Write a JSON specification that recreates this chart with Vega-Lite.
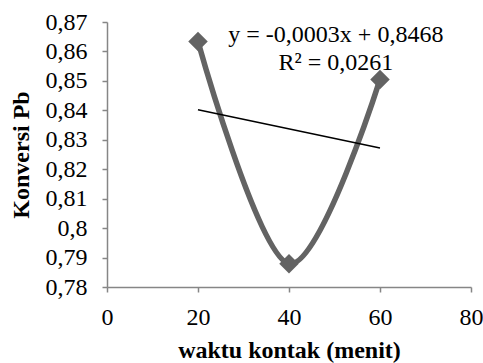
{
  "$schema": "https://vega.github.io/schema/vega-lite/v6.json",
  "width": 364,
  "height": 265,
  "autosize": {"type": "none"},
  "padding": {"left": 107, "top": 22, "right": 12, "bottom": 76},
  "background": "white",
  "config": {
    "view": {"stroke": null},
    "font": "Liberation Serif",
    "axis": {
      "grid": false,
      "domainColor": "#868686",
      "tickColor": "#868686",
      "domainWidth": 1.5,
      "tickWidth": 1.5,
      "tickSize": 5,
      "labelFont": "Liberation Serif",
      "labelFontSize": 24,
      "labelColor": "#000000",
      "titleFont": "Liberation Serif",
      "titleFontSize": 24,
      "titleFontWeight": "bold",
      "titleColor": "#000000"
    }
  },
  "datasets": {
    "obs": [
      {"waktu": 20, "konversi": 0.8634},
      {"waktu": 40, "konversi": 0.7879},
      {"waktu": 60, "konversi": 0.8505}
    ],
    "trend": [
      {"waktu": 20, "konversi": 0.8402},
      {"waktu": 60, "konversi": 0.8272}
    ]
  },
  "layer": [
    {
      "data": {"name": "obs"},
      "mark": {"type": "line", "interpolate": "cardinal", "color": "#636363", "strokeWidth": 5.5},
      "encoding": {
        "x": {"field": "waktu", "type": "quantitative", "scale": {"domain": [0, 80], "nice": false, "zero": false},
              "axis": {"values": [0, 20, 40, 60, 80], "title": "waktu kontak (menit)", "labelPadding": 13, "titlePadding": 9, "labelOverlap": false, "labelFlush": false}},
        "y": {"field": "konversi", "type": "quantitative", "scale": {"domain": [0.78, 0.87], "nice": false, "zero": false},
              "axis": {"values": [0.78, 0.79, 0.8, 0.81, 0.82, 0.83, 0.84, 0.85, 0.86, 0.87],
                       "tickCount": 10,
                       "labelOverlap": false,
                       "labelFlush": false,
                       "labelBound": false,
                       "labelExpr": "replace(format(datum.value, '.2~f'), '.', ',')",
                       "title": "Konversi Pb", "labelPadding": 15, "titlePadding": 12}}
      }
    },
    {
      "data": {"name": "obs"},
      "mark": {"type": "point", "shape": "diamond", "filled": true, "color": "#636363", "size": 380, "opacity": 1},
      "encoding": {
        "x": {"field": "waktu", "type": "quantitative"},
        "y": {"field": "konversi", "type": "quantitative"}
      }
    },
    {
      "data": {"name": "trend"},
      "mark": {"type": "line", "color": "#000000", "strokeWidth": 1.5},
      "encoding": {
        "x": {"field": "waktu", "type": "quantitative"},
        "y": {"field": "konversi", "type": "quantitative"}
      }
    },
    {
      "data": {"values": [{}]},
      "mark": {"type": "text", "text": "y = -0,0003x + 0,8468", "fontSize": 24, "font": "Liberation Serif", "align": "center", "baseline": "middle", "color": "#000000"},
      "encoding": {
        "x": {"datum": 50.3, "type": "quantitative"},
        "y": {"datum": 0.8655, "type": "quantitative"}
      }
    },
    {
      "data": {"values": [{}]},
      "mark": {"type": "text", "text": "R² = 0,0261", "fontSize": 24, "font": "Liberation Serif", "align": "center", "baseline": "middle", "color": "#000000"},
      "encoding": {
        "x": {"datum": 50.3, "type": "quantitative"},
        "y": {"datum": 0.8560, "type": "quantitative"}
      }
    }
  ]
}
